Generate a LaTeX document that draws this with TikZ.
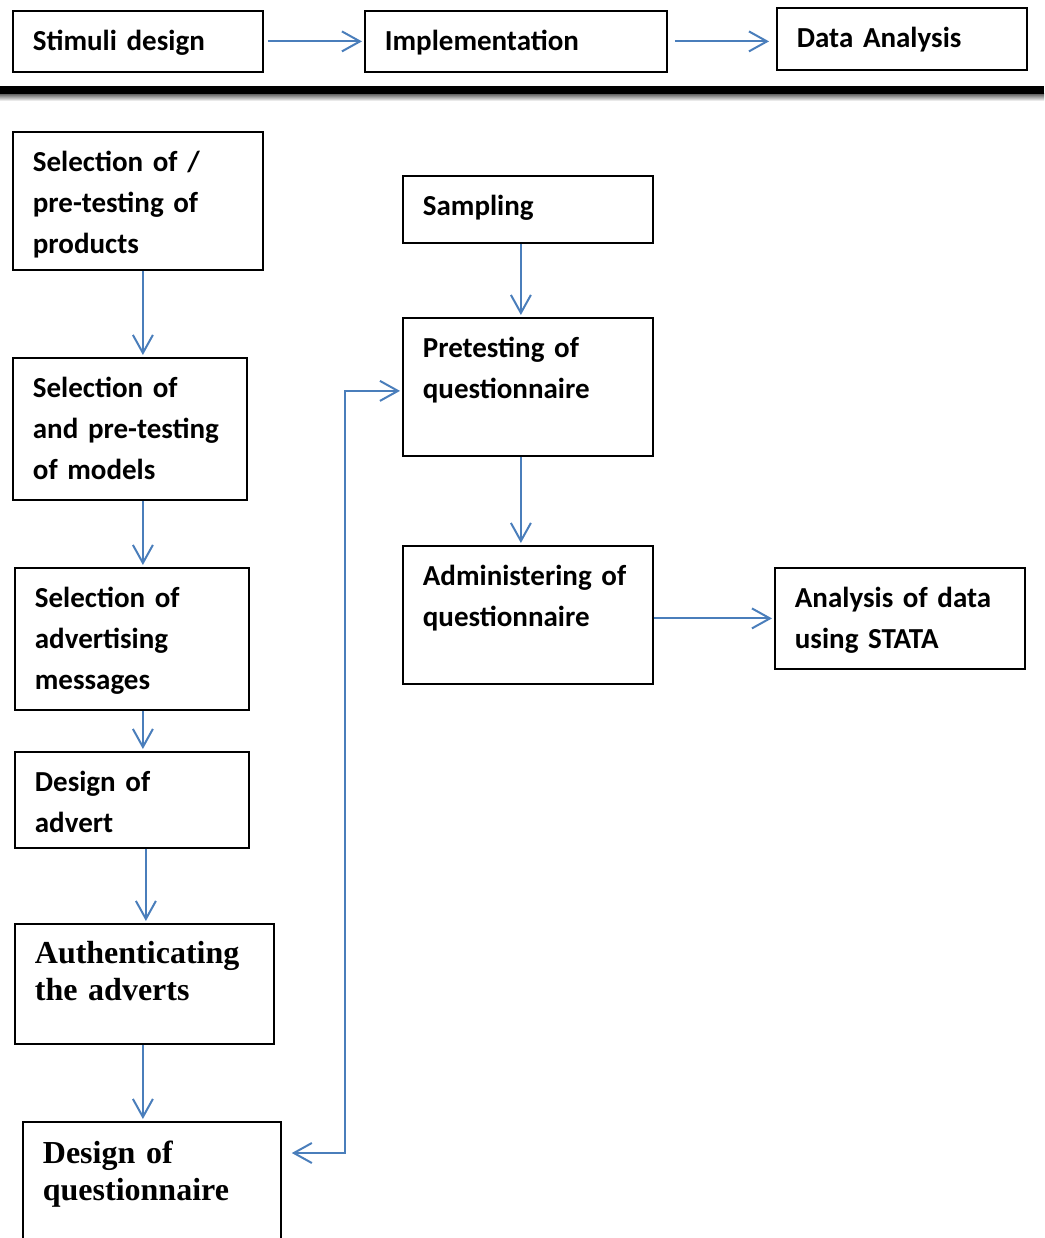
\documentclass[tikz,border=0pt]{standalone}
\usepackage{fontspec}
\setmainfont{Carlito}
\newfontfamily\timesfont{Liberation Serif}
\usetikzlibrary{arrows.meta}
\definecolor{flowblue}{HTML}{4A7EBB}
\tikzset{
  box/.style 2 args={draw, line width=1.8pt, anchor=north west, inner xsep=20pt, inner ysep=0pt,
    align=left, text width=#1, text height=40pt, text depth=#2,
    font=\fontsize{29}{41}\selectfont\bfseries},
  serif/.style={font=\timesfont\fontsize{32}{37}\selectfont\bfseries},
  flow/.style={flowblue, line width=2pt, ->, shorten >=2pt},
}

\begin{document}
\begin{tikzpicture}[x=1pt, y=-1pt, >={Straight Barb[length=18pt,width=20pt]}]
            \useasboundingbox (0,0) rectangle (1044,1238);
            \clip (0,0) rectangle (1044,1238);
            \shade[top color=black!60, bottom color=white] (0,94) rectangle (1044,101);
            \fill (0,86) rectangle (1044,94);

            \node[box={210pt}{21pt}] (stim) at (12,10) {Stimuli design};
            \node[box={262pt}{21pt}] (impl) at (364,10) {Implementation};
            \node[box={210pt}{22pt}] (anal) at (776,7) {Data Analysis};

            \node[box={210pt}{98pt}] (prod) at (12,131) {Selection of /\\pre-testing of\\products};
            \node[box={194pt}{102pt}] (model) at (12,357) {Selection of\\and pre-testing\\of models};
            \node[box={194pt}{102pt}] (msg) at (14,567) {Selection of\\advertising\\messages};
            \node[box={194pt}{56pt}] (advert) at (14,751) {Design of\\advert};
            \node[box={219pt}{80pt}, serif] (auth) at (14,923) {Authenticating\\the adverts};
            \node[box={218pt}{140pt}, serif, text height=42pt] (quest) at (22,1121) {Design of\\questionnaire};

            \node[box={210pt}{27pt}] (samp) at (402,175) {Sampling};
            \node[box={210pt}{98pt}] (pretest) at (402,317) {Pretesting of\\questionnaire};
            \node[box={210pt}{98pt}] (admin) at (402,545) {Administering of\\questionnaire};
            \node[box={210pt}{61pt}] (stata) at (774,567) {Analysis of data\\using STATA};

            \draw[flow, shorten <=4pt] (stim.east) -- (impl.west);
            \draw[flow, shorten <=7pt, shorten >=7pt] (impl.east) -- (impl.east -| anal.west);

            \draw[flow] ([xshift=5pt]prod.south) -- ([xshift=5pt]prod.south |- model.north);
            \draw[flow] ([xshift=13pt]model.south) -- ([xshift=13pt]model.south |- msg.north);
            \draw[flow] ([xshift=11pt]msg.south) -- ([xshift=11pt]msg.south |- advert.north);
            \draw[flow] ([xshift=14pt]advert.south) -- ([xshift=14pt]advert.south |- auth.north);
            \draw[flow] ([xshift=-1.5pt]auth.south) -- ([xshift=-1.5pt]auth.south |- quest.north);

            \draw[flow] ([xshift=-7pt]samp.south) -- ([xshift=-7pt]samp.south |- pretest.north);
            \draw[flow] ([xshift=-7pt]pretest.south) -- ([xshift=-7pt]pretest.south |- admin.north);
            \draw[flow] (admin.east |- stata.west) -- (stata.west);

            \draw[flow, <->, shorten <=10pt] ([yshift=-32pt]quest.north east) -- ++(63,0) |- ([yshift=-4pt]pretest.west);
        \end{tikzpicture}
\end{document}
